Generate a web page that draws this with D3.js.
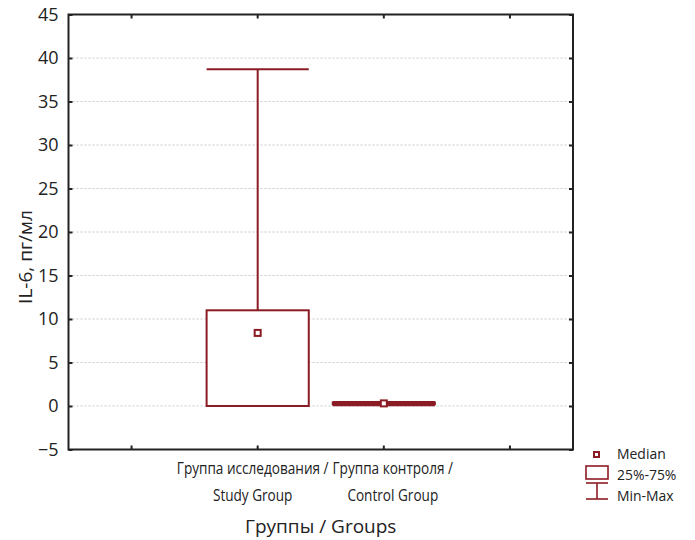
<!DOCTYPE html>
<html>
<head>
<meta charset="utf-8">
<script src="https://cdn.jsdelivr.net/npm/d3@7"></script>
<style>
  body { margin: 0; background: #fff; }
  svg { display: block; }
</style>
</head>
<body>
<svg id="chart"></svg>
<script>
// Data
const slots = ["s0", "study", "control", "s3"];
const groups = ["study", "control"];
const group_labels = [
    ["Группа исследования /", "Study Group"],
    ["Группа контроля /", "Control Group"]
];
const mins    = [0,    0.1];
const q1s     = [0,    0.2];
const medians = [8.4,  0.3];
const q3s     = [11,   0.4];
const maxs    = [38.7, 0.45];
const y_ticks = [-5, 0, 5, 10, 15, 20, 25, 30, 35, 40, 45];
const legend_items = ["Median", "25%-75%", "Min-Max"];

const width = 695, height = 540;
const margin = {left: 68.5, right: 122, top: 14.5, bottom: 90.5};
const red = "#8c1c24";
const main_font = "'Open Sans', 'Noto Sans', sans-serif";
const label_shift = [-5, 9];   // category labels sit a little apart in the original

const svg = d3.select("#chart").attr("width", width).attr("height", height);

const x = d3.scaleBand()
    .domain(slots)
    .range([margin.left, width - margin.right]);

const y = d3.scaleLinear()
    .domain([-5, 45])
    .range([height - margin.bottom, margin.top]);

const plot_left = margin.left, plot_right = width - margin.right;
const plot_top = margin.top, plot_bottom = height - margin.bottom;

function narrow_text(parent, tx, ty, txt, anchor, size, sx) {
    return parent.append("text")
        .attr("transform", `translate(${tx},${ty}) scale(${sx},1)`)
        .attr("text-anchor", anchor)
        .attr("font-family", main_font)
        .attr("font-size", size)
        .attr("fill", "#222")
        .text(txt);
}

// grid lines
svg.append("g")
    .selectAll("line")
    .data(y_ticks.filter(d => d > -5 && d < 45))
    .join("line")
    .attr("x1", plot_left).attr("x2", plot_right)
    .attr("y1", d => y(d)).attr("y2", d => y(d))
    .attr("stroke", "#c4cacf")
    .attr("stroke-width", 1)
    .attr("stroke-dasharray", "2,2");

// y axis (labels), ticks drawn inward
const y_axis = svg.append("g")
    .attr("transform", `translate(${plot_left},0)`)
    .call(d3.axisLeft(y).tickValues(y_ticks).tickSize(-4).tickPadding(10)
        .tickFormat(d => d < 0 ? "\u2212" + Math.abs(d) : d));
y_axis.select(".domain").remove();
y_axis.selectAll(".tick line").attr("stroke", "#222").attr("stroke-width", 2);
y_axis.selectAll(".tick text")
    .attr("font-family", main_font)
    .attr("font-size", 18)
    .attr("fill", "#222");

const y_right = svg.append("g")
    .attr("transform", `translate(${plot_right},0)`)
    .call(d3.axisRight(y).tickValues(y_ticks).tickSize(-4).tickFormat(""));
y_right.select(".domain").remove();
y_right.selectAll(".tick line").attr("stroke", "#222").attr("stroke-width", 2);

// x ticks top & bottom (inward)
const x_top = svg.append("g")
    .attr("transform", `translate(0,${plot_top})`)
    .call(d3.axisTop(x).tickSize(-4).tickFormat(""));
x_top.select(".domain").remove();
x_top.selectAll(".tick line").attr("stroke", "#222").attr("stroke-width", 2);

const x_bottom = svg.append("g")
    .attr("transform", `translate(0,${plot_bottom})`)
    .call(d3.axisBottom(x).tickSize(-4).tickFormat(""));
x_bottom.select(".domain").remove();
x_bottom.selectAll(".tick line").attr("stroke", "#222").attr("stroke-width", 2);

// frame
svg.append("rect")
    .attr("x", plot_left).attr("y", plot_top)
    .attr("width", plot_right - plot_left)
    .attr("height", plot_bottom - plot_top)
    .attr("fill", "none")
    .attr("stroke", "#222")
    .attr("stroke-width", 2);

// boxes
const box_w = x.bandwidth() * 0.81;
const cap_w = x.bandwidth() * 0.81;

const box_g = svg.append("g")
    .selectAll("g")
    .data(groups)
    .join("g")
    .attr("transform", d => `translate(${x(d) + x.bandwidth() / 2},0)`);

// whisker
box_g.append("line")
    .attr("x1", 0).attr("x2", 0)
    .attr("y1", (d, i) => y(maxs[i]))
    .attr("y2", (d, i) => y(mins[i]))
    .attr("stroke", red).attr("stroke-width", 2);
box_g.append("line")
    .attr("x1", -cap_w / 2).attr("x2", cap_w / 2)
    .attr("y1", (d, i) => y(maxs[i])).attr("y2", (d, i) => y(maxs[i]))
    .attr("stroke", red).attr("stroke-width", 2);
box_g.append("line")
    .attr("x1", -cap_w / 2).attr("x2", cap_w / 2)
    .attr("y1", (d, i) => y(mins[i])).attr("y2", (d, i) => y(mins[i]))
    .attr("stroke", red).attr("stroke-width", 2);

box_g.append("rect")
    .attr("x", -box_w / 2)
    .attr("y", (d, i) => y(q3s[i]))
    .attr("width", box_w)
    .attr("height", (d, i) => y(q1s[i]) - y(q3s[i]))
    .attr("fill", "#fff")
    .attr("stroke", red).attr("stroke-width", 2);

box_g.append("rect")
    .attr("x", -3)
    .attr("y", (d, i) => y(medians[i]) - 3)
    .attr("width", 6).attr("height", 6)
    .attr("fill", "#fff")
    .attr("stroke", red).attr("stroke-width", 2);

// x labels
group_labels.forEach((lines, i) => {
    const cx = x(groups[i]) + x.bandwidth() / 2 + label_shift[i];
    lines.forEach((t, j) => {
        narrow_text(svg, cx, plot_bottom + 24 + j * 27, t, "middle", 17, 0.8);
    });
});

// axis titles
svg.append("text")
    .attr("x", (plot_left + plot_right) / 2)
    .attr("y", 533)
    .attr("text-anchor", "middle")
    .attr("font-family", main_font)
    .attr("font-size", 19)
    .attr("fill", "#222")
    .text("Группы / Groups");

svg.append("text")
    .attr("transform", `translate(32,${(plot_top + plot_bottom) / 2 + 25}) rotate(-90)`)
    .attr("text-anchor", "middle")
    .attr("font-family", main_font)
    .attr("font-size", 19)
    .attr("fill", "#222")
    .text("IL-6, пг/мл");

// legend
const lg = svg.append("g").attr("transform", "translate(597,0)");
lg.append("rect")
    .attr("x", -3).attr("y", 452).attr("width", 5).attr("height", 5)
    .attr("fill", "#fff").attr("stroke", red).attr("stroke-width", 2);
lg.append("rect")
    .attr("x", -11).attr("y", 466).attr("width", 22).attr("height", 13)
    .attr("fill", "#fff").attr("stroke", red).attr("stroke-width", 1.6);
lg.append("line").attr("x1", -11).attr("x2", 11).attr("y1", 483).attr("y2", 483)
    .attr("stroke", red).attr("stroke-width", 1.6);
lg.append("line").attr("x1", 0).attr("x2", 0).attr("y1", 483).attr("y2", 499)
    .attr("stroke", red).attr("stroke-width", 1.6);
lg.append("line").attr("x1", -11).attr("x2", 11).attr("y1", 499).attr("y2", 499)
    .attr("stroke", red).attr("stroke-width", 1.6);

legend_items.forEach((t, i) => {
    narrow_text(lg, 20, 459 + i * 21, t, "start", 15, 0.93);
});
</script>
</body>
</html>
